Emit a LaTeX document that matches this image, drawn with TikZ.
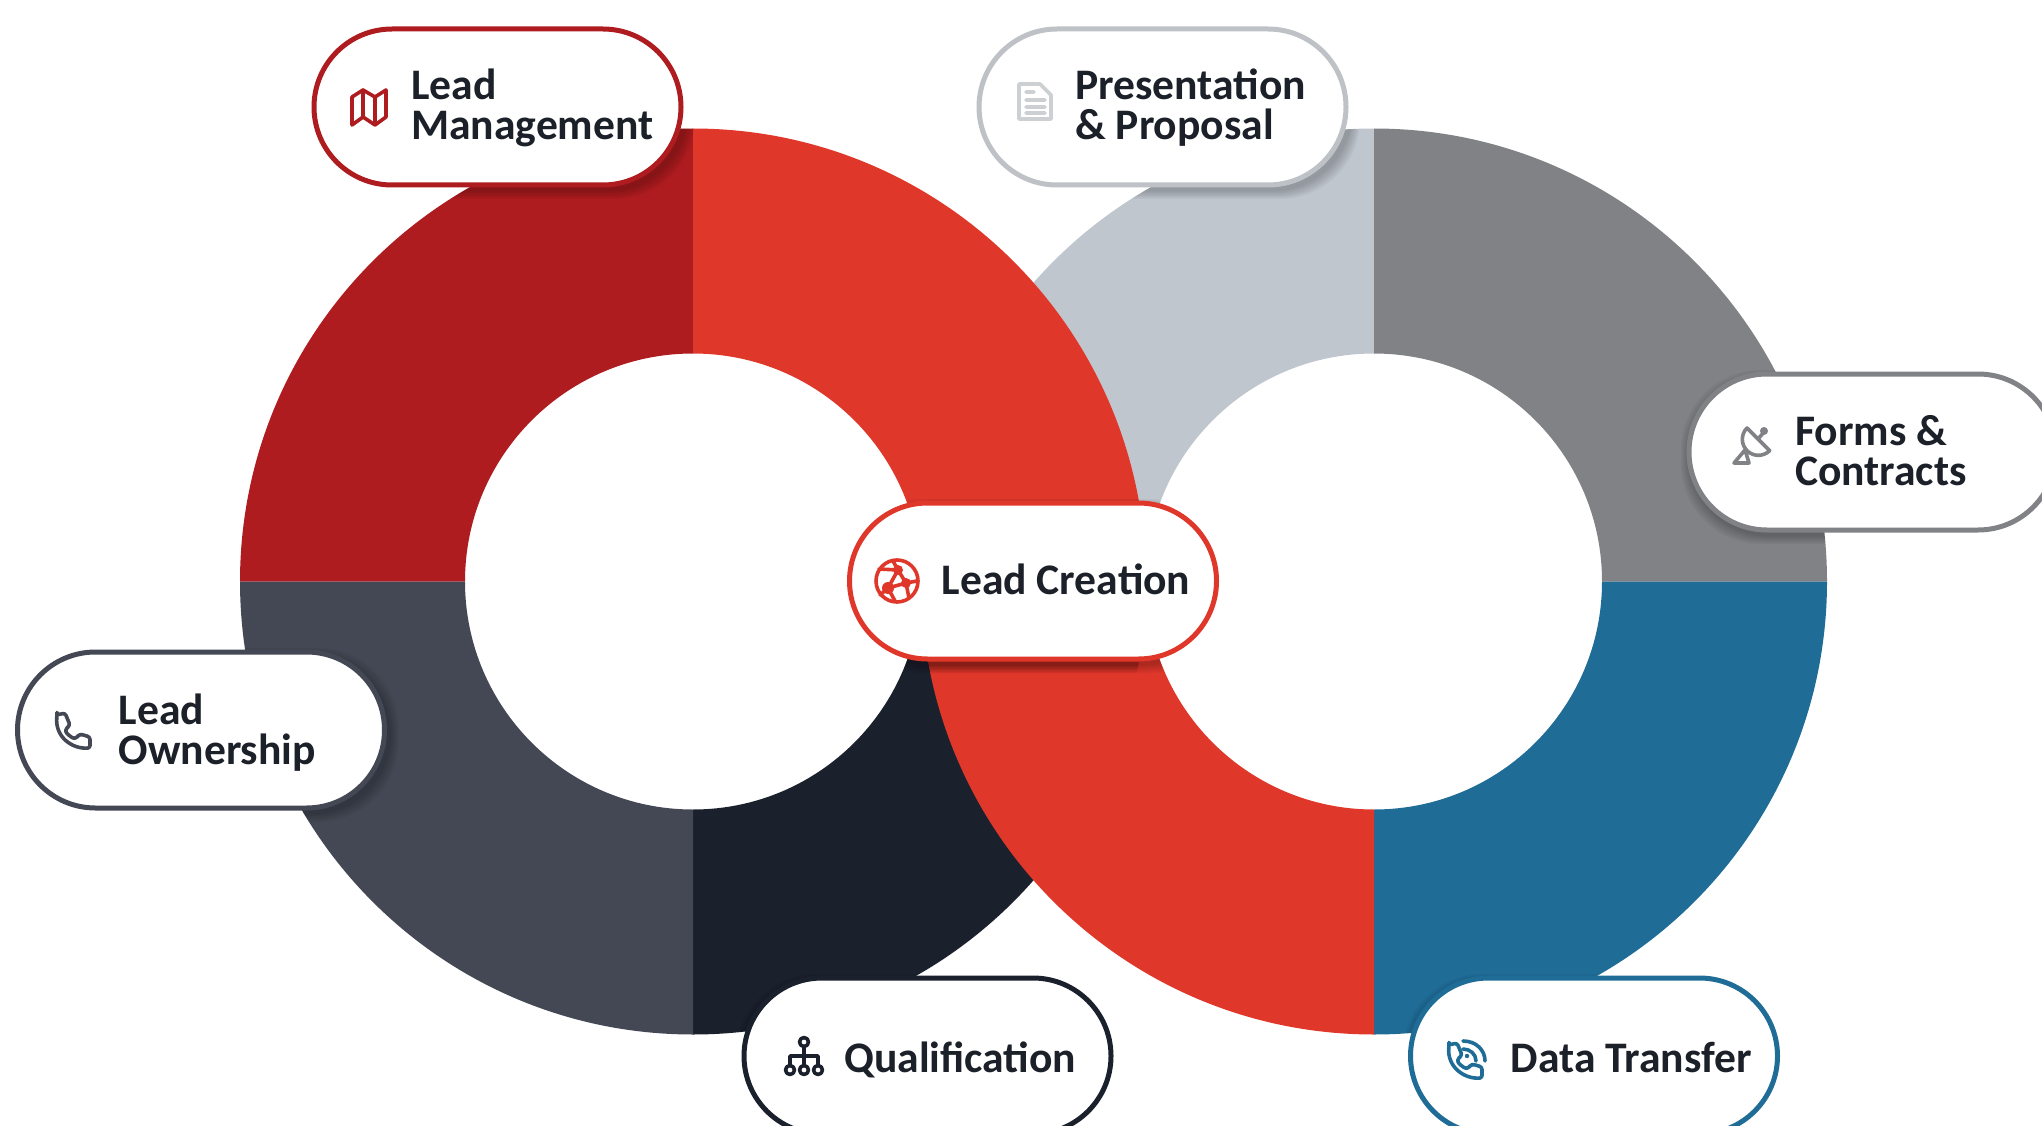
\documentclass[tikz,border=0pt]{standalone}
\usepackage{fontspec}
\setmainfont{Carlito}[Ligatures=Common]
\usetikzlibrary{shapes.misc,calc}
\definecolor{cDarkRed}{HTML}{AE1C20}
\definecolor{cRed}{HTML}{E0372B}
\definecolor{cLight}{HTML}{C0C6CE}
\definecolor{cGrey}{HTML}{808285}
\definecolor{cBlue}{HTML}{1F6C97}
\definecolor{cSlate}{HTML}{444854}
\definecolor{cBlack}{HTML}{1A202C}
\definecolor{cInk}{HTML}{1C2029}
\definecolor{cPillLight}{HTML}{BEC2C6}
\definecolor{cDoc}{HTML}{CDD0D3}
\tikzset{
  pill/.style={shape=rounded rectangle,draw=#1,line width=5pt,fill=white,
    minimum width=367pt,minimum height=156pt,inner sep=0pt},
  pilltext/.style={font=\fontsize{43.6}{40}\selectfont\bfseries,text=cInk,
    inner sep=0pt,anchor=base west,align=left},
  icon/.style={draw=#1,line width=3.6pt,line join=round,line cap=round},
  sector/.style={fill=#1,draw=none}
}
\newcommand{\ringsector}[4]{%
  \path[sector=#4] ([shift={(#2:453pt)}]#1) arc[start angle=#2,end angle=#3,radius=453pt]
    -- ([shift={(#3:228pt)}]#1) arc[start angle=#3,end angle=#2,radius=228pt] -- cycle;}
\newcommand{\pillshadow}[2]{%
  \foreach \k in {1,...,6}{%
    \fill[black,opacity=.04,rounded corners=80pt]
      ($(#1,#2)+(-185.5+3-\k*1.5,-78-5-\k*1.5)$) rectangle ($(#1,#2)+(185.5+3+\k*1.5,78-5+\k*1.5)$);}}
\newcommand{\allshadows}{%
  \pillshadow{497.5}{-107}
  \pillshadow{1162.5}{-107}
  \pillshadow{1872.5}{-452}
  \pillshadow{1033}{-581}
  \pillshadow{201}{-730}
  \pillshadow{927.5}{-1056}
  \pillshadow{1594}{-1056}}
\newcommand{\handsetpath}{%
  (2,3) -- (10,1) -- (15,13) -- (10,18)
  .. controls (12,22) and (16,25) .. (20,27)
  -- (25,22) -- (35,25) -- (35,36)
  .. controls (17,37) and (0,25) .. (2,3) -- cycle}
\begin{document}
\begin{tikzpicture}[x=1pt,y=1pt]
\useasboundingbox (0,-1126) rectangle (2042,0);
\clip (0,-1126) rectangle (2042,0);
\coordinate (cL) at (693,-581.5);
\coordinate (cR) at (1374,-581.5);
% rings
\ringsector{cR}{90}{180}{cLight}
\ringsector{cL}{270}{360}{cBlack}
\ringsector{cL}{90}{180}{cDarkRed}
\ringsector{cL}{180}{270}{cSlate}
\ringsector{cR}{0}{90}{cGrey}
\ringsector{cR}{270}{360}{cBlue}
\ringsector{cL}{0}{90}{cRed}
\ringsector{cR}{180}{270}{cRed}
% soft shadows, visible on the rings only
\begin{scope}[even odd rule]
\clip (cL) circle[radius=453pt] (cL) circle[radius=228pt];
\allshadows
\end{scope}
\begin{scope}[even odd rule]
\clip (cR) circle[radius=453pt] (cR) circle[radius=228pt];
\allshadows
\end{scope}
% pills
\node[pill=cDarkRed] (mgmt) at (497.5,-107) {};
\node[pill=cPillLight] (pres) at (1162.5,-107) {};
\node[pill=cGrey] (forms) at (1872.5,-452) {};
\node[pill=cRed] (create) at (1033,-581) {};
\node[pill=cSlate] (own) at (201,-730) {};
\node[pill=cBlack] (qual) at (927.5,-1056) {};
\node[pill=cBlue] (data) at (1594,-1056) {};
% labels
\node[pilltext] (tMgmt) at (411,-140) {Lead\\Management};
\node[pilltext] (tPres) at (1075,-140) {Presentation\\\& Proposal};
\node[pilltext] (tForms) at (1795,-485) {Forms \&\\Contracts};
\node[pilltext] (tCreate) at (941.5,-594) {Lead Creation};
\node[pilltext] (tOwn) at (118.5,-764) {Lead\\Ownership};
\node[pilltext] (tQual) at (844,-1072) {Qualification};
\node[pilltext] (tData) at (1510.5,-1072) {Data Transfer};
% map icon
\path[icon=cDarkRed] (352,-97) -- (363,-90) -- (375,-97) -- (386,-90) -- (386,-117) -- (375,-125)
  -- (363,-117) -- (352,-125) -- cycle (363,-90) -- (363,-117) (375,-97) -- (375,-125);
% document icon
\path[icon=cDoc] (1019,-84) -- (1040,-84) -- (1051,-95) -- (1051,-119) -- (1019,-119) -- cycle
  (1026,-92) -- (1034,-92) (1026,-100) -- (1045,-100) (1026,-107) -- (1045,-107) (1026,-113) -- (1045,-113);
% dish icon
\path[icon=cGrey] (1747,-428) arc[start angle=135,end angle=315,radius=16pt] -- cycle
  (1758,-439) -- (1764,-432)
  (1734,-463) -- (1749,-463) -- (1745,-450) -- cycle;
\fill[cGrey] (1764,-431) circle[radius=4pt];
% globe icon
\path[icon=cRed] (897,-581) circle[radius=21pt];
\path[icon=cRed] (879,-569) -- (898,-570) -- (906,-583) -- (888,-588) -- (898,-570)
  (888,-588) -- (880,-595) (888,-588) -- (895,-601) (906,-583) -- (917,-581) (906,-583) -- (909,-598)
  (898,-570) -- (893,-561);
\fill[cRed] (898,-570) circle[radius=5pt] (888,-588) circle[radius=6pt] (906,-583) circle[radius=5pt];
% handset icon
\path[icon=cSlate,rounded corners=2.5pt,shift={(55,-712)},y=-1pt] \handsetpath;
% organisation icon
\path[icon=cBlack] (804,-1042) circle[radius=4.5pt] (790,-1070) circle[radius=4.5pt]
  (804,-1070) circle[radius=4.5pt] (818,-1070) circle[radius=4.5pt]
  (804,-1047) -- (804,-1065) (790,-1065) -- (790,-1056) -- (818,-1056) -- (818,-1065);
% phone with waves icon
\path[icon=cBlue,rounded corners=2.5pt,shift={(1447,-1042)},y=-1pt] \handsetpath;
\path[icon=cBlue] (1463,-1041) .. controls (1476,-1041) and (1485,-1050) .. (1485,-1061)
  (1463,-1049) .. controls (1470,-1049) and (1476,-1054) .. (1476,-1061);
\fill[cBlue] (1467,-1056) circle[radius=2.2pt];
\end{tikzpicture}
\end{document}
